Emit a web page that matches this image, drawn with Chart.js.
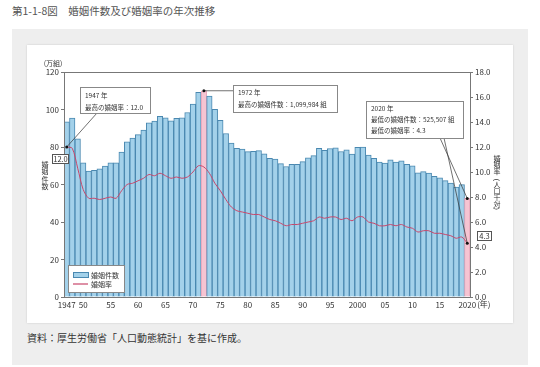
<!DOCTYPE html>
<html lang="ja">
<head>
<meta charset="utf-8">
<script src="https://cdn.jsdelivr.net/npm/chart.js@4.4.1/dist/chart.umd.min.js"></script>
<style>
body{margin:0;width:540px;height:367px;background:#fff;font-family:"Noto Sans CJK JP",sans-serif;position:relative;overflow:hidden}
#title{position:absolute;left:12px;top:3px;font-size:10.5px;color:#555;white-space:nowrap}
#panel{position:absolute;left:12px;top:29px;width:516px;height:336px;background:#eeeeee}
#card{position:absolute;left:27px;top:45px;width:486px;height:278px;background:#fff;box-shadow:0 0 2px rgba(0,0,0,.15)}
#src{position:absolute;left:27px;top:330px;font-size:10px;color:#333;white-space:nowrap}
</style>
</head>
<body>
<div id="title">第1-1-8図　婚姻件数及び婚姻率の年次推移</div>
<div id="panel"></div>
<div id="card"><canvas id="c" width="486" height="278"></canvas></div>
<div id="src">資料：厚生労働省「人口動態統計」を基に作成。</div>
<script>
// 年次
const years = [1947,1948,1949,1950,1951,1952,1953,1954,1955,1956,1957,1958,1959,
  1960,1961,1962,1963,1964,1965,1966,1967,1968,1969,1970,1971,1972,1973,1974,
  1975,1976,1977,1978,1979,1980,1981,1982,1983,1984,1985,1986,1987,1988,1989,
  1990,1991,1992,1993,1994,1995,1996,1997,1998,1999,2000,2001,2002,2003,2004,
  2005,2006,2007,2008,2009,2010,2011,2012,2013,2014,2015,2016,2017,2018,2019,2020];
// 婚姻件数（万組）
const marriages = [93.4,95.4,84.3,71.5,67.2,67.6,68.3,69.8,71.5,71.5,77.3,82.7,84.7,
  86.6,89.0,92.9,93.8,96.3,95.5,94.0,95.3,95.6,98.4,102.9,109.2,110.0,107.2,100.1,
  94.2,87.2,82.1,79.3,78.9,77.5,77.7,78.1,76.3,74.0,73.6,71.1,69.6,70.8,70.8,
  72.2,74.2,75.4,79.3,78.2,79.2,79.5,77.6,78.5,76.2,79.8,80.0,75.7,74.0,72.0,
  71.4,73.1,72.0,72.6,70.8,70.0,66.2,66.9,66.1,64.4,63.5,62.1,60.7,58.6,59.9,52.6];
// 婚姻率（人口千対）
const rates = [12.0,11.9,10.3,8.6,7.9,7.9,7.8,7.9,8.0,7.9,8.5,9.0,9.1,
  9.3,9.5,9.8,9.7,9.9,9.7,9.5,9.6,9.5,9.6,10.0,10.5,10.4,9.9,9.1,
  8.5,7.8,7.2,6.9,6.8,6.7,6.6,6.6,6.4,6.2,6.1,5.9,5.7,5.8,5.8,
  5.9,6.0,6.1,6.4,6.3,6.4,6.4,6.2,6.3,6.1,6.4,6.4,6.0,5.9,5.7,
  5.7,5.8,5.7,5.8,5.6,5.5,5.2,5.3,5.3,5.1,5.1,5.0,4.9,4.7,4.8,4.3];
const highlightYears = [1972, 2020];
const leftTicks = [0,20,40,60,80,100,120];
const rightTicks = [0,2,4,6,8,10,12,14,16,18];

const FONT = '"Noto Sans CJK JP", sans-serif';
const BAR = '#a3d1ea', BAR_EDGE = '#4a88b0';
const PINK = '#f6c4d2', PINK_EDGE = '#e7a6bb';
const LINE = '#c9476b';
const TXT = '#333';

function vtext(ctx, str, x, y, step){
  for (const ch of str) {
    ctx.save();
    ctx.translate(x, y);
    if (ch === '（' || ch === '）') ctx.rotate(Math.PI / 2);
    ctx.fillText(ch, 0, 0);
    ctx.restore();
    y += step;
  }
}

function noteBox(ctx, x, y, w, h, lines, tx, ty, lh){
  ctx.fillStyle = '#fff';
  ctx.fillRect(x, y, w, h);
  ctx.strokeStyle = '#888';
  ctx.lineWidth = 1;
  ctx.strokeRect(x + .5, y + .5, w, h);
  ctx.fillStyle = TXT;
  ctx.textAlign = 'left';
  ctx.textBaseline = 'middle';
  ctx.font = '6.5px ' + FONT;
  lines.forEach((t, i) => ctx.fillText(t, tx, ty + i * lh));
}

function leader(ctx, x1, y1, x2, y2){
  ctx.strokeStyle = '#333';
  ctx.lineWidth = .7;
  ctx.beginPath(); ctx.moveTo(x1, y1); ctx.lineTo(x2, y2); ctx.stroke();
  ctx.fillStyle = '#111';
  ctx.beginPath(); ctx.arc(x2, y2, 1.5, 0, Math.PI * 2); ctx.fill();
}

function valueTag(ctx, x, y, w, h, t){
  ctx.fillStyle = '#fff';
  ctx.fillRect(x, y, w, h);
  ctx.strokeStyle = '#555';
  ctx.lineWidth = 1;
  ctx.strokeRect(x + .5, y + .5, w, h);
  ctx.fillStyle = TXT;
  ctx.font = '7.5px ' + FONT;
  ctx.textAlign = 'center';
  ctx.textBaseline = 'middle';
  ctx.fillText(t, x + w / 2 + .5, y + h / 2 + 1);
}

const extras = {
  id: 'extras',
  afterDatasetsDraw(chart){
    const {ctx, chartArea: a, scales: {x, y, y1}} = chart;
    ctx.save();
    // 枠
    ctx.strokeStyle = '#777';
    ctx.lineWidth = 1;
    ctx.strokeRect(Math.round(a.left) + .5, Math.round(a.top) + .5, a.right - a.left, a.bottom - a.top);

    // 軸タイトル
    ctx.fillStyle = TXT;
    ctx.font = '7px ' + FONT;
    ctx.textAlign = 'center';
    ctx.textBaseline = 'middle';
    ctx.fillText('(万組)', 26, 18);
    vtext(ctx, '婚姻件数', 18, 119, 7.5);
    vtext(ctx, '婚姻率（人口千対）', 470, 113, 6.6);

    // (年)
    const i20 = years.indexOf(2020);
    ctx.font = '8px ' + FONT;
    const w2020 = ctx.measureText('2020').width;
    ctx.textAlign = 'left';
    ctx.fillText('(年)', x.getPixelForValue(i20) + w2020 / 2 + 1, 259);

    // 注記
    const i47 = years.indexOf(1947), i72 = years.indexOf(1972);
    const p47 = [x.getPixelForValue(i47), y1.getPixelForValue(rates[i47])];
    const p72 = [x.getPixelForValue(i72), y.getPixelForValue(marriages[i72])];
    const p20b = [x.getPixelForValue(i20), y.getPixelForValue(marriages[i20])];
    const p20r = [x.getPixelForValue(i20), y1.getPixelForValue(rates[i20])];

    leader(ctx, 70, 68, p47[0], p47[1]);
    noteBox(ctx, 53, 42, 70, 26, ['1947 年', '最高の婚姻率：12.0'], 58, 51, 12);
    valueTag(ctx, 25, 109, 16, 9, rates[i47].toFixed(1));

    leader(ctx, 206, p72[1], p72[0], p72[1]);
    noteBox(ctx, 206, 40, 104, 27, ['1972 年', '最高の婚姻件数：1,099,984 組'], 211, 48, 12);

    leader(ctx, 413, 93, p20b[0], p20b[1]);
    leader(ctx, 417, 93, p20r[0], p20r[1]);
    noteBox(ctx, 339, 56, 97, 37, ['2020 年', '最低の婚姻件数：525,507 組', '最低の婚姻率：4.3'], 344, 64, 11);
    valueTag(ctx, 450, 186, 14, 9, rates[i20].toFixed(1));

    // 凡例
    ctx.fillStyle = '#fff';
    ctx.fillRect(41, 220, 56, 27);
    ctx.strokeStyle = '#888';
    ctx.strokeRect(41.5, 220.5, 56, 27);
    ctx.fillStyle = BAR;
    ctx.fillRect(46, 227, 15, 5);
    ctx.strokeStyle = BAR_EDGE;
    ctx.strokeRect(46.5, 227.5, 15, 5);
    ctx.strokeStyle = LINE;
    ctx.lineWidth = 1.2;
    ctx.beginPath(); ctx.moveTo(46, 239); ctx.lineTo(61, 239); ctx.stroke();
    ctx.fillStyle = TXT;
    ctx.font = '7px ' + FONT;
    ctx.textAlign = 'left';
    ctx.fillText('婚姻件数', 64, 230);
    ctx.fillText('婚姻率', 64, 239);
    ctx.restore();
  }
};

const hi = years.map(yr => highlightYears.includes(yr));

new Chart(document.getElementById('c'), {
  data: {
    labels: years,
    datasets: [
      {
        type: 'line', label: '婚姻率', data: rates, yAxisID: 'y1', order: 0,
        borderColor: LINE, borderWidth: 1, pointRadius: 0, tension: 0.3, fill: false
      },
      {
        type: 'bar', label: '婚姻件数', data: marriages, yAxisID: 'y', order: 1,
        backgroundColor: hi.map(h => h ? PINK : BAR),
        borderColor: hi.map(h => h ? PINK_EDGE : BAR_EDGE),
        borderWidth: 1, categoryPercentage: 1, barPercentage: 1
      }
    ]
  },
  options: {
    responsive: false,
    devicePixelRatio: 1,
    animation: false,
    layout: {padding: {top: 27, left: 0, right: 0, bottom: 0}},
    plugins: {legend: {display: false}, tooltip: {enabled: false}},
    scales: {
      x: {
        offset: true,
        grid: {display: false, drawTicks: false},
        border: {display: true, color: '#777'},
        ticks: {
          autoSkip: false, maxRotation: 0, minRotation: 0, padding: 3,
          color: TXT, font: {size: 8, family: FONT},
          callback(v, i){
            const yr = years[i];
            if (yr === 1947 || yr === 2000 || yr === 2020) return String(yr);
            if (yr % 5 === 0) return String(yr % 100).padStart(2, '0');
            return '';
          }
        },
        afterFit(s){ s.height = 26; }
      },
      y: {
        position: 'left', min: 0, max: 120,
        afterBuildTicks(s){ s.ticks = leftTicks.map(v => ({value: v})); },
        grid: {drawOnChartArea: false, tickLength: 3, color: '#777'},
        border: {display: true, color: '#777'},
        ticks: {padding: 2, color: TXT, font: {size: 8, family: FONT}},
        afterFit(s){ s.width = 37; }
      },
      y1: {
        position: 'right', min: 0, max: 18,
        afterBuildTicks(s){ s.ticks = rightTicks.map(v => ({value: v})); },
        grid: {drawOnChartArea: false, tickLength: 3, color: '#777'},
        border: {display: true, color: '#777'},
        ticks: {padding: 2, color: TXT, font: {size: 8, family: FONT}, callback: v => v.toFixed(1)},
        afterFit(s){ s.width = 43; }
      }
    }
  },
  plugins: [extras]
});
</script>
</body>
</html>
